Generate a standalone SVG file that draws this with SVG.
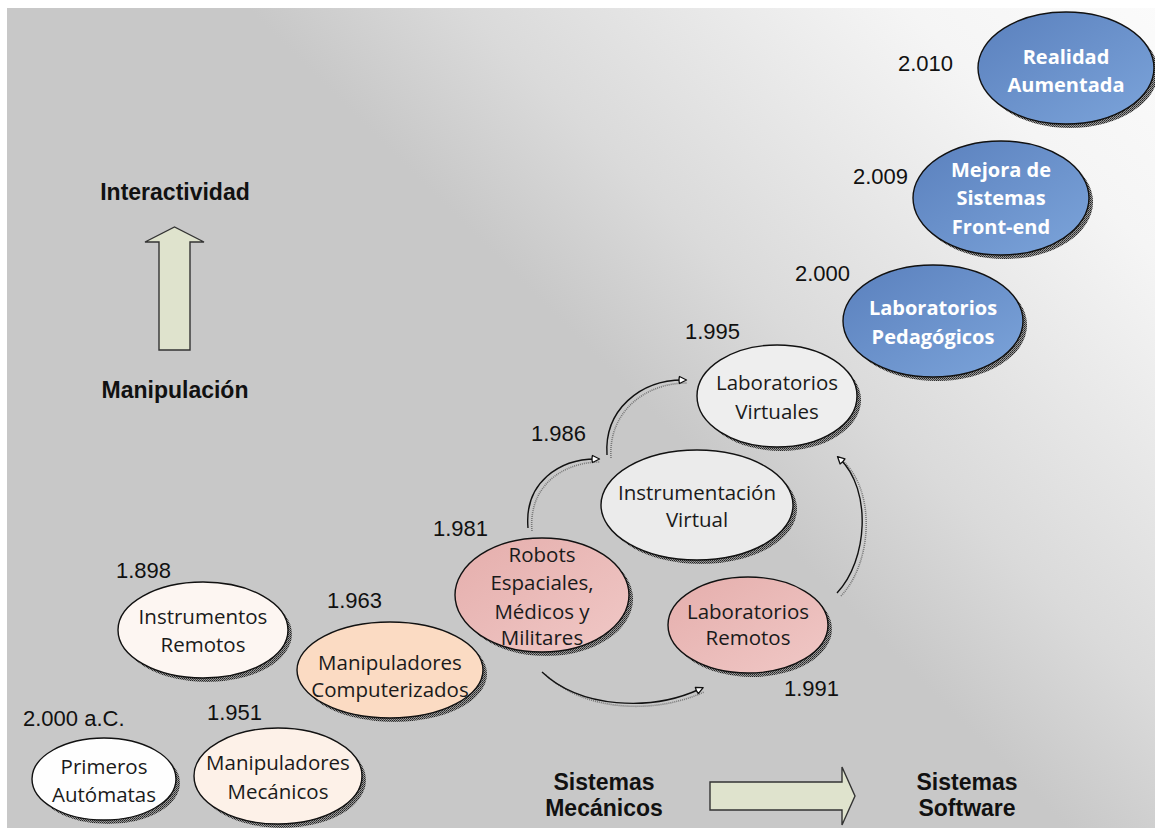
<svg xmlns="http://www.w3.org/2000/svg" width="1155" height="828" viewBox="0 0 1155 828">
  <defs>
    <linearGradient id="bg" gradientUnits="userSpaceOnUse" x1="400" y1="400" x2="1000" y2="-200">
      <stop offset="0.2" stop-color="#c8c8c8"/>
      <stop offset="0.38" stop-color="#dadada"/>
      <stop offset="0.75" stop-color="#f5f5f5"/>
      <stop offset="1" stop-color="#fcfcfc"/>
    </linearGradient>
    <linearGradient id="blue" x1="0" y1="0" x2="1" y2="1">
      <stop offset="0" stop-color="#5a80bd"/>
      <stop offset="1" stop-color="#7ca4da"/>
    </linearGradient>
    <linearGradient id="pink" x1="0" y1="0" x2="1" y2="1">
      <stop offset="0" stop-color="#e5aeac"/>
      <stop offset="1" stop-color="#f0c8c6"/>
    </linearGradient>
    <pattern id="hatch" width="2" height="2" patternUnits="userSpaceOnUse">
      <rect width="2" height="2" fill="#9a9a9a"/>
      <rect width="1" height="1" fill="#222"/>
      <rect x="1" y="1" width="1" height="1" fill="#444"/>
    </pattern>
    <marker id="head" viewBox="0 0 10 10" refX="5" refY="5" markerWidth="10" markerHeight="10" markerUnits="userSpaceOnUse" orient="auto">
      <path d="M1.5,1.5 L8.5,5 L1.5,8.5 Q0.5,5 1.5,1.5 Z" fill="#fff" stroke="#111" stroke-width="1.3" stroke-linejoin="round"/>
    </marker>
    <style>
      .node { stroke: #111; stroke-width: 1.4; }
      .shadow { fill: url(#hatch); }
      .lbl { font-family: "Open Sans", "Noto Sans", sans-serif; font-size: 20.5px; fill: #1a1a1a; text-anchor: middle; }
      .lblw { font-family: "Open Sans", "Noto Sans", sans-serif; font-size: 20px; font-weight: bold; fill: #fff; text-anchor: middle; }
      .date { font-family: "Liberation Sans", Arial, sans-serif; font-size: 22px; fill: #111; }
      .axis { font-family: "Liberation Sans", Arial, sans-serif; font-size: 23px; font-weight: bold; fill: #111; text-anchor: middle; }
      .conn { fill: none; stroke: #111; stroke-width: 1.4; }
      .connsh { fill: none; stroke: #777; stroke-width: 1.6; stroke-dasharray: 1 1; }
      .block { fill: #dfe3cd; stroke: #333; stroke-width: 1.4; }
    </style>
  </defs>

  <!-- canvas -->
  <rect width="1155" height="828" fill="#fff"/>
  <rect x="7" y="8" width="1148" height="820" fill="url(#bg)"/>

  <!-- axis labels and block arrows -->
  <g id="axis-vertical">
    <text class="axis" x="175" y="200">Interactividad</text>
    <path class="block" d="M159,350 L159,242 L145,242 L174.5,227 L204,242 L190,242 L190,350 Z"/>
    <text class="axis" x="175" y="398">Manipulación</text>
  </g>
  <g id="axis-horizontal">
    <text class="axis" x="604" y="790">Sistemas</text>
    <text class="axis" x="604" y="816">Mecánicos</text>
    <path class="block" d="M710,782 L842,782 L842,767 L855,796 L842,825 L842,810 L710,810 Z"/>
    <text class="axis" x="967" y="790">Sistemas</text>
    <text class="axis" x="967" y="816">Software</text>
  </g>

  <!-- connectors -->
  <g id="connectors">
    <g transform="translate(4,3)">
      <path class="connsh" d="M528,528 C524,482 560,459 596,459"/>
      <path class="connsh" d="M607,455 C604,410 640,380 683,380"/>
      <path class="connsh" d="M542,672 C580,708 650,712 700,689"/>
      <path class="connsh" d="M837,593 C868,560 872,490 840,459"/>
    </g>
    <path class="conn" marker-end="url(#head)" d="M528,528 C524,482 560,459 596,459"/>
    <path class="conn" marker-end="url(#head)" d="M607,455 C604,410 640,380 683,380"/>
    <path class="conn" marker-end="url(#head)" d="M542,672 C580,708 650,712 700,689"/>
    <path class="conn" marker-end="url(#head)" d="M837,593 C868,560 872,490 840,459"/>
  </g>

  <!-- nodes -->
  <g id="n-primeros">
    <ellipse class="shadow" cx="108" cy="783" rx="72" ry="41"/>
    <ellipse class="node" cx="104" cy="779" rx="72" ry="41" fill="#fefefe"/>
    <text class="lbl" x="104" y="774">Primeros</text>
    <text class="lbl" x="104" y="802">Autómatas</text>
  </g>
  <text class="date" x="23" y="726">2.000 a.C.</text>

  <g id="n-mecanicos">
    <ellipse class="shadow" cx="282" cy="780" rx="84" ry="48"/>
    <ellipse class="node" cx="278" cy="776" rx="84" ry="48" fill="#fdf1e8"/>
    <text class="lbl" x="278" y="770">Manipuladores</text>
    <text class="lbl" x="278" y="799">Mecánicos</text>
  </g>
  <text class="date" x="207" y="720">1.951</text>

  <g id="n-instrumentos">
    <ellipse class="shadow" cx="207" cy="634" rx="85" ry="48"/>
    <ellipse class="node" cx="203" cy="630" rx="85" ry="48" fill="#fdf6f2"/>
    <text class="lbl" x="203" y="624">Instrumentos</text>
    <text class="lbl" x="203" y="652">Remotos</text>
  </g>
  <text class="date" x="116" y="578">1.898</text>

  <g id="n-computerizados">
    <ellipse class="shadow" cx="394" cy="674" rx="93" ry="48"/>
    <ellipse class="node" cx="390" cy="670" rx="93" ry="48" fill="#fbdbc3"/>
    <text class="lbl" x="390" y="670">Manipuladores</text>
    <text class="lbl" x="390" y="697">Computerizados</text>
  </g>
  <text class="date" x="327" y="608">1.963</text>

  <g id="n-robots">
    <ellipse class="shadow" cx="546" cy="599" rx="87" ry="57"/>
    <ellipse class="node" cx="542" cy="595" rx="87" ry="57" fill="url(#pink)"/>
    <text class="lbl" x="542" y="562">Robots</text>
    <text class="lbl" x="542" y="590">Espaciales,</text>
    <text class="lbl" x="542" y="619">Médicos y</text>
    <text class="lbl" x="542" y="645">Militares</text>
  </g>
  <text class="date" x="433" y="536">1.981</text>

  <g id="n-instrumentacion">
    <ellipse class="shadow" cx="701" cy="509" rx="96" ry="55"/>
    <ellipse class="node" cx="697" cy="505" rx="96" ry="55" fill="#ebebeb"/>
    <text class="lbl" x="697" y="500">Instrumentación</text>
    <text class="lbl" x="697" y="527">Virtual</text>
  </g>
  <text class="date" x="531" y="441">1.986</text>

  <g id="n-virtuales">
    <ellipse class="shadow" cx="781" cy="400" rx="80" ry="51"/>
    <ellipse class="node" cx="777" cy="396" rx="80" ry="51" fill="#eeeeee"/>
    <text class="lbl" x="777" y="390">Laboratorios</text>
    <text class="lbl" x="777" y="419">Virtuales</text>
  </g>
  <text class="date" x="685" y="339">1.995</text>

  <g id="n-remotos">
    <ellipse class="shadow" cx="752" cy="629" rx="80" ry="48"/>
    <ellipse class="node" cx="748" cy="625" rx="80" ry="48" fill="url(#pink)"/>
    <text class="lbl" x="748" y="619">Laboratorios</text>
    <text class="lbl" x="748" y="645">Remotos</text>
  </g>
  <text class="date" x="784" y="696">1.991</text>

  <g id="n-pedagogicos">
    <ellipse class="shadow" cx="937" cy="325" rx="90" ry="56"/>
    <ellipse class="node" cx="933" cy="321" rx="90" ry="56" fill="url(#blue)"/>
    <text class="lblw" x="933" y="315">Laboratorios</text>
    <text class="lblw" x="933" y="344">Pedagógicos</text>
  </g>
  <text class="date" x="795" y="281">2.000</text>

  <g id="n-frontend">
    <ellipse class="shadow" cx="1005" cy="202" rx="88" ry="57"/>
    <ellipse class="node" cx="1001" cy="198" rx="88" ry="57" fill="url(#blue)"/>
    <text class="lblw" x="1001" y="177">Mejora de</text>
    <text class="lblw" x="1001" y="205">Sistemas</text>
    <text class="lblw" x="1001" y="234">Front-end</text>
  </g>
  <text class="date" x="853" y="184">2.009</text>

  <g id="n-realidad">
    <ellipse class="shadow" cx="1070" cy="72" rx="88" ry="56"/>
    <ellipse class="node" cx="1066" cy="68" rx="88" ry="56" fill="url(#blue)"/>
    <text class="lblw" x="1066" y="64">Realidad</text>
    <text class="lblw" x="1066" y="92">Aumentada</text>
  </g>
  <text class="date" x="898" y="71">2.010</text>
</svg>
